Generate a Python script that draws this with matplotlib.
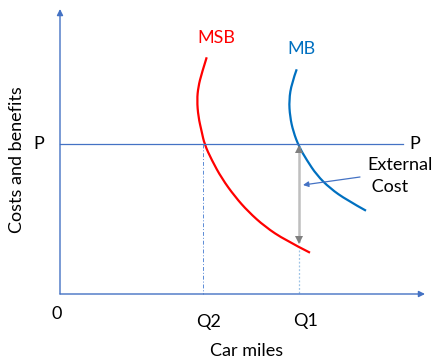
import matplotlib
matplotlib.use("Agg")
import matplotlib.pyplot as plt
from matplotlib.path import Path
from matplotlib.patches import PathPatch

# Chart data (in picture units: x to the right, y downward)
msb_x = [206.7, 201.7, 198.3, 197.0, 198.3, 201.7, 204.5, 211.7, 221.7, 235.0, 248.3, 265.0, 285.0, 310.0]
msb_y = [57.3, 73.3, 86.7, 100.0, 116.7, 131.7, 144.3, 160.0, 178.3, 196.7, 211.7, 226.7, 240.0, 252.7]
mb_x = [296.7, 291.7, 289.0, 290.0, 293.3, 299.0, 306.7, 316.7, 330.0, 346.7, 366.0]
mb_y = [69.3, 83.3, 100.0, 116.7, 131.7, 146.7, 160.0, 175.0, 188.3, 200.0, 210.7]
origin = (60, 294)
price_level = 144
q2 = 203
q1 = 299
ext_cost_low = 243
curve_labels = ["MSB", "MB"]
tick_labels = ["0", "Q2", "Q1"]
price_label = "P"
x_title = "Car miles"
y_title = "Costs and benefits"
ext_label = "External\n Cost"

FONT = ["Lato", "DejaVu Sans"]
AX = "#4472C4"


def smooth_path(xs, ys):
    pts = list(zip(xs, ys))
    verts = [pts[0]]
    codes = [Path.MOVETO]
    for i in range(1, len(pts) - 1):
        mid = ((pts[i][0] + pts[i + 1][0]) / 2, (pts[i][1] + pts[i + 1][1]) / 2)
        if i == len(pts) - 2:
            mid = pts[i + 1]
        verts += [pts[i], mid]
        codes += [Path.CURVE3, Path.CURVE3]
    return Path(verts, codes)


fig = plt.figure(figsize=(4.36, 3.6), dpi=100)
ax = fig.add_axes([0, 0, 1, 1])
ax.set_xlim(0, 436)
ax.set_ylim(360, 0)
ax.axis("off")

# axes with arrows
ax.annotate("", xy=(origin[0], 9), xytext=(origin[0], origin[1]),
            arrowprops=dict(arrowstyle="-|>", color=AX, lw=1.0, mutation_scale=9, shrinkA=0, shrinkB=0))
ax.annotate("", xy=(425, origin[1]), xytext=(origin[0], origin[1]),
            arrowprops=dict(arrowstyle="-|>", color=AX, lw=1.0, mutation_scale=9, shrinkA=0, shrinkB=0))

# price line
ax.plot([origin[0], 403], [price_level, price_level], color=AX, lw=0.9)

# guide lines
ax.plot([q2, q2], [price_level, origin[1]], color="#5B8BD6", lw=0.7, linestyle=(0, (4, 2, 1, 2)))
ax.plot([q1, q1], [250, origin[1]], color="#9DC3E6", lw=0.9, linestyle=(0, (1.5, 1.5)))

# curves
ax.add_patch(PathPatch(smooth_path(msb_x, msb_y), facecolor="none", edgecolor="#FF0000", lw=1.6))
ax.add_patch(PathPatch(smooth_path(mb_x, mb_y), facecolor="none", edgecolor="#0070C0", lw=1.6))

# external cost double arrow
ax.plot([q1, q1], [price_level + 4, ext_cost_low - 2], color="#BFBFBF", lw=1.8)
ax.plot([q1], [price_level + 5], marker="^", color="#7F7F7F", markersize=6, markeredgewidth=0)
ax.plot([q1], [ext_cost_low - 3], marker="v", color="#7F7F7F", markersize=6, markeredgewidth=0)

# blue pointer arrow
ax.annotate("", xy=(303, 185), xytext=(360, 177),
            arrowprops=dict(arrowstyle="-|>", color="#4472C4", lw=0.9, mutation_scale=8, shrinkA=0, shrinkB=0))

fs = 13
ax.text(216, 38, curve_labels[0], color="#FF0000", fontsize=fs, family=FONT, ha="center", va="center")
ax.text(301, 49, curve_labels[1], color="#0070C0", fontsize=fs, family=FONT, ha="center", va="center")
ax.text(39, 144, price_label, fontsize=fs, family=FONT, ha="center", va="center")
ax.text(415, 144, price_label, fontsize=fs, family=FONT, ha="center", va="center")
ax.text(367, 176, ext_label, fontsize=fs, family=FONT, ha="left", va="center", linespacing=1.45)
ax.text(57, 314, tick_labels[0], fontsize=fs, family=FONT, ha="center", va="center")
ax.text(209, 322, tick_labels[1], fontsize=fs, family=FONT, ha="center", va="center")
ax.text(306, 321, tick_labels[2], fontsize=fs, family=FONT, ha="center", va="center")
ax.text(247, 351, x_title, fontsize=fs, family=FONT, ha="center", va="center")
ax.text(17, 160, y_title, fontsize=fs, family=FONT, ha="center", va="center", rotation=90)

fig.savefig("out.png", dpi=100)
